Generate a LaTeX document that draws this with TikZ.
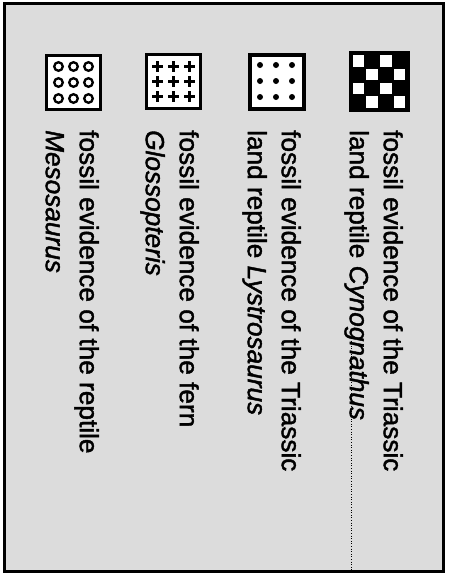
\documentclass[tikz,border=0pt]{standalone}
\usepackage{fontspec}
\setmainfont{Liberation Sans}
\newfontfamily\scanfont[FakeBold=1.6]{Liberation Sans}
\usepackage{tikz}
\usetikzlibrary{positioning,calc}
\definecolor{ScanGray}{HTML}{DCDCDC}

\begin{document}
\begin{tikzpicture}[
  x=1pt, y=-1pt,
  outerframe/.style={draw=black, line width=3pt, fill=ScanGray},
  legbox/.style={draw=black, line width=3.2pt, fill=white, minimum size=54pt, inner sep=0pt},
  legtext/.style={rotate=-90, anchor=north west, align=left, inner sep=0pt, font=\scanfont\fontsize{26.2}{34}\selectfont},
  ring/.style={draw=black, line width=2.3pt},
  crossbar/.style={draw=black, line width=3.2pt},
  scanline/.style={draw=black, line width=0.7pt, dash pattern=on 1pt off 1.6pt}
]
\useasboundingbox (0,0) rectangle (449,582);

% frame of the legend
\draw[outerframe] (4.5,3.5) rectangle (443.5,571.5);

% legend symbols
\node[legbox] (meso) at (73.5,82.5) {};
\node[legbox] (glosso) at (173.5,81.5) {};
\node[legbox] (lystro) at (277,82) {};
\node[legbox, fill=black, minimum size=58pt, line width=3pt] (cyno) at (379,81.5) {};

\foreach \i in {-1,0,1}
  \foreach \j in {-1,0,1} {
    \draw[ring] ($(meso)+(\i*15,\j*16)$) circle[radius=4.3pt];
    \draw[crossbar] ($(glosso)+(\i*16-5.5,\j*15)$) -- ++(11,0);
    \draw[crossbar] ($(glosso)+(\i*16,\j*15-5.5)$) -- ++(0,11);
    \fill ($(lystro)+(\i*16-1,\j*16-1)$) circle[radius=3pt];
  }

\foreach \c/\r in {0/0,2/0,1/1,3/1,0/2,2/2,1/3,3/3}
  \fill[white] ($(cyno.center)+(-20.6+\c*13.75-5.8,-20.6+\r*13.75-5.8)$) rectangle ++(11.6,11.6);

% legend texts
\node[legtext] (mesotxt) at (99,130) {fossil evidence of the reptile\\\textit{Mesosaurus}};
\node[legtext] (glossotxt) at (199,130) {fossil evidence of the fern\\\textit{Glossopteris}};
\node[legtext] (lystrotxt) at (301,130) {fossil evidence of the Triassic\\land reptile \textit{Lystrosaurus}};
\node[legtext] (cynotxt) at (403,130) {fossil evidence of the Triassic\\land reptile \textit{Cynognathus}};

\coordinate (lineend) at (351,570);
\draw[scanline] (351,338) -- (lineend);

\end{tikzpicture}
\end{document}
